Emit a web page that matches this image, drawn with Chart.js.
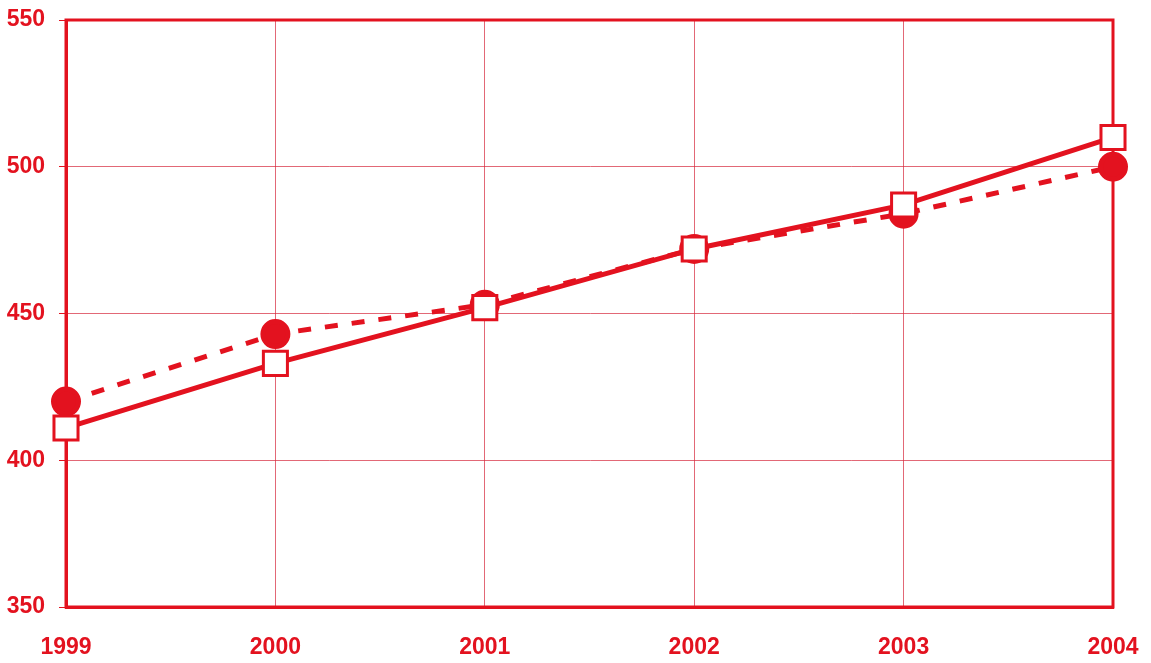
<!DOCTYPE html>
<html>
<head>
<meta charset="utf-8">
<script src="https://cdn.jsdelivr.net/npm/chart.js@4"></script>
<style>
  html, body { margin: 0; padding: 0; background: #ffffff; }
  #wrap { width: 1151px; height: 663px; }
</style>
</head>
<body>
<div id="wrap"><canvas id="chart"></canvas></div>
<script>
const years = ["1999", "2000", "2001", "2002", "2003", "2004"]
const squareSeries = [411, 433, 452, 472, 487, 510]
const circleSeries = [420, 443, 453, 472, 484, 500]
const yTicks = [350, 400, 450, 500, 550]

const red = '#e3121f'
const gridRed = 'rgba(214, 40, 60, 0.7)'

// box round the plot area (top and right sides too)
const frame = {
    id: 'frame',
    beforeDatasetsDraw(chart) {
        const { ctx, chartArea: a } = chart
        ctx.save()
        ctx.strokeStyle = red
        ctx.lineWidth = 3
        ctx.strokeRect(a.left, a.top, a.right - a.left, a.bottom - a.top)
        ctx.restore()
    }
}

let chart = new Chart(document.getElementById("chart"), {
    type: 'line',
    data: {
        labels: years,
        datasets: [
            {
                label: 'Squares',
                borderColor: red,
                borderWidth: 5,
                pointStyle: 'rect',
                pointRadius: 17,
                pointBackgroundColor: '#ffffff',
                pointBorderColor: red,
                pointBorderWidth: 3,
                tension: 0,
                data: squareSeries
            },
            {
                label: 'Circles',
                borderColor: red,
                borderWidth: 5,
                borderDash: [13, 14],
                pointStyle: 'circle',
                pointRadius: 12.5,
                pointBackgroundColor: red,
                pointBorderColor: red,
                tension: 0,
                data: circleSeries
            }
        ]
    },
    options: {
        responsive: true,
        maintainAspectRatio: false,
        animation: false,
        layout: {
            padding: { top: 18, right: 38, bottom: 0, left: 0 }
        },
        plugins: {
            legend: { display: false },
            tooltip: { enabled: false }
        },
        scales: {
            x: {
                offset: false,
                grid: {
                    color: gridRed,
                    lineWidth: 1,
                    drawTicks: false
                },
                border: { color: red, width: 3 },
                ticks: {
                    color: red,
                    padding: 27,
                    maxRotation: 0,
                    font: { family: "'Liberation Sans', Arial, sans-serif", size: 23, weight: 'bold' }
                },
                afterFit: function(scale) {
                    scale.height = 56
                    scale.paddingLeft = 0
                    scale.paddingRight = 0
                }
            },
            y: {
                min: 350,
                max: 550,
                afterBuildTicks: function(scale) {
                    scale.ticks = yTicks.map(v => ({ value: v }))
                },
                grid: {
                    color: gridRed,
                    lineWidth: 1,
                    tickLength: 7,
                    tickColor: red
                },
                border: { color: red, width: 3 },
                ticks: {
                    color: red,
                    padding: 14,
                    font: { family: "'Liberation Sans', Arial, sans-serif", size: 23, weight: 'bold' }
                },
                afterFit: function(scale) {
                    scale.width = 66
                    scale.paddingTop = 0
                    scale.paddingBottom = 0
                }
            }
        }
    },
    plugins: [frame]
})
</script>
</body>
</html>
